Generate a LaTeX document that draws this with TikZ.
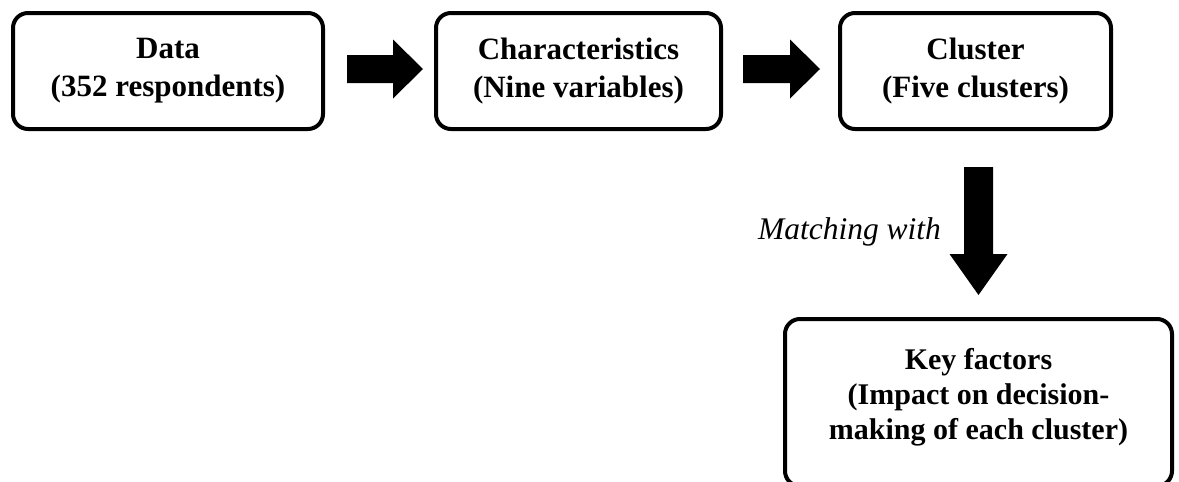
\documentclass[tikz,border=0pt]{standalone}
\usepackage{fontspec}
\setmainfont{Liberation Serif}
\usetikzlibrary{calc}
\newcommand\HBlockArrow[2]{%
  \fill[blockarrow] ($(#1)+(0,-14)$) -- ($(#2)+(-30,-14)$) -- ($(#2)+(-30,-29.5)$) -- (#2)
    -- ($(#2)+(-30,29.5)$) -- ($(#2)+(-30,14)$) -- ($(#1)+(0,14)$) -- cycle;}
\begin{document}
\begin{tikzpicture}[x=1pt,y=-1pt,
  box/.style={draw, line width=4pt, rounded corners=15pt, align=center, inner sep=0pt,
    font=\bfseries\fontsize{31}{38}\selectfont},
  blockarrow/.style={fill=black, draw=none},
  lbl/.style={font=\itshape\fontsize{31.5}{38}\selectfont, inner sep=0pt}]
\fill[white] (0,0) rectangle (1179,482);
\useasboundingbox (0,0) rectangle (1179,482);
\node[box, minimum width=310pt, minimum height=116pt] (data) at (168,71) {Data\\(352 respondents)};
\node[box, minimum width=285pt, minimum height=116pt] (char) at (578.5,71) {Characteristics\\(Nine variables)};
\node[box, minimum width=271pt, minimum height=116pt] (clus) at (975.5,71) {Cluster\\(Five clusters)};
\node[box, minimum width=387pt, minimum height=167pt, text depth=17pt,
  font=\bfseries\fontsize{30}{35}\selectfont] (key) at (978.5,402.5) {Key factors\\(Impact on decision-\\making of each cluster)};
\node[lbl] (match) at (849.5,232) {Matching with};
% horizontal block arrows
\coordinate (a1s) at ($(data.east)+(22,-2)$);
\coordinate (a1t) at ($(char.west)+(-11,-2)$);
\HBlockArrow{a1s}{a1t}
\coordinate (a2s) at ($(char.east)+(20,-2)$);
\coordinate (a2t) at ($(clus.west)+(-18,-2)$);
\HBlockArrow{a2s}{a2t}
% vertical block arrow
\coordinate (a3s) at ($(key.north |- clus.south)+(0,36)$);
\coordinate (a3t) at ($(key.north)+(0,-22)$);
\fill[blockarrow] ($(a3s)+(-14.5,0)$) -- ($(a3t)+(-14.5,-41)$) -- ($(a3t)+(-29,-41)$) -- (a3t)
  -- ($(a3t)+(29,-41)$) -- ($(a3t)+(14.5,-41)$) -- ($(a3s)+(14.5,0)$) -- cycle;
\end{tikzpicture}
\end{document}
